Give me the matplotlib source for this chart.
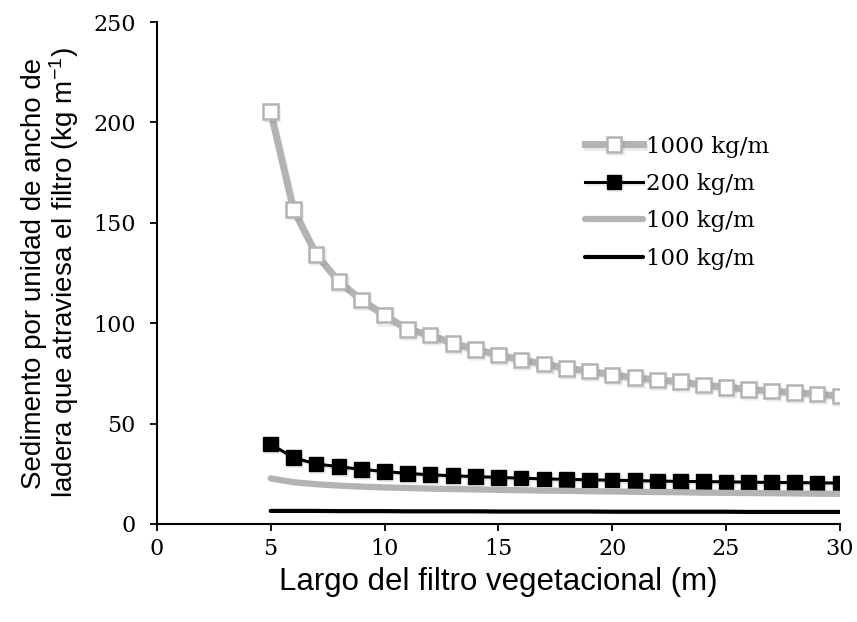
import numpy as np
import matplotlib
matplotlib.use("Agg")
import matplotlib.pyplot as plt
import matplotlib.patheffects as pe

plt.rcParams["mathtext.fontset"] = "custom"
plt.rcParams["mathtext.rm"] = "Liberation Sans"
plt.rcParams["mathtext.it"] = "Liberation Sans"

# largo del filtro (m)
largo = list(range(5, 31))

# sedimento que atraviesa el filtro (kg/m)
sed_1000 = [205.3, 156.7, 134.3, 120.7, 111.5, 104.0, 97.0, 94.1, 90.0, 87.0,
            84.2, 81.7, 79.7, 77.5, 76.2, 74.2, 72.9, 71.7, 70.9, 69.2,
            68.1, 67.1, 66.2, 65.4, 64.7, 63.7]
sed_200 = [39.8, 33.0, 29.9, 28.5, 27.2, 26.1, 25.2, 24.5, 24.0, 23.6,
           23.2, 22.8, 22.5, 22.2, 22.0, 21.8, 21.6, 21.4, 21.2, 21.1,
           21.0, 20.8, 20.7, 20.6, 20.5, 20.4]
sed_100a = [22.7, 20.8, 19.8, 19.1, 18.6, 18.2, 17.9, 17.6, 17.4, 17.2,
            17.0, 16.8, 16.6, 16.5, 16.3, 16.2, 16.0, 15.9, 15.8, 15.6,
            15.5, 15.4, 15.3, 15.2, 15.1, 15.0]
sed_100b = [6.5, 6.5, 6.5, 6.4, 6.4, 6.4, 6.3, 6.3, 6.3, 6.3,
            6.2, 6.2, 6.2, 6.2, 6.2, 6.1, 6.1, 6.1, 6.1, 6.1,
            6.1, 6.0, 6.0, 6.0, 6.0, 6.0]

labels = ["1000 kg/m", "200 kg/m", "100 kg/m", "100 kg/m"]

gris = "#b3b3b3"
# sombra suave bajo las series con marcadores
shadow = [pe.SimpleLineShadow(offset=(1, -1.5), shadow_color="k", alpha=0.08), pe.Normal()]

fig = plt.figure(figsize=(8.57, 6.22), dpi=100)
ax = fig.add_axes([0.183, 0.1576, 0.797, 0.807])

ax.plot(largo, sed_1000, color=gris, lw=5, marker="s", ms=10.5,
        mfc="white", mec=gris, mew=1.8, label=labels[0], path_effects=shadow)
ax.plot(largo, sed_200, color="black", lw=2.2, marker="s", ms=10.5,
        mfc="black", mec="black", label=labels[1], path_effects=shadow)
ax.plot(largo, sed_100a, color=gris, lw=4.5, solid_capstyle="round",
        label=labels[2])
ax.plot(largo, sed_100b, color="black", lw=3, solid_capstyle="round",
        label=labels[3])

ax.set_xlim(0, 30)
ax.set_ylim(0, 250)
ax.set_xticks(range(0, 31, 5))
ax.set_yticks(range(0, 251, 50))
for s in ["top", "right"]:
    ax.spines[s].set_visible(False)
for s in ["left", "bottom"]:
    ax.spines[s].set_linewidth(1.5)
ax.tick_params(direction="out", length=5, width=1.3, labelsize=16)
ax.tick_params(axis="y", pad=10)
ax.tick_params(axis="x", pad=5)
for t in ax.get_xticklabels() + ax.get_yticklabels():
    t.set_family("DejaVu Serif")

ax.set_xlabel("Largo del filtro vegetacional (m)", fontsize=22.5,
              family="Liberation Sans", labelpad=5)
ax.set_ylabel("Sedimento por unidad de ancho de\nladera que atraviesa el filtro (kg m$^{-1}$)",
              fontsize=20, family="Liberation Sans", labelpad=9, linespacing=1.0)

leg = ax.legend(loc="upper left", bbox_to_anchor=(0.597, 0.815), frameon=False,
                prop={"family": "DejaVu Serif", "size": 16.5},
                handlelength=2.5, handletextpad=0.15, labelspacing=0.67)

fig.savefig("out.png", dpi=100)
